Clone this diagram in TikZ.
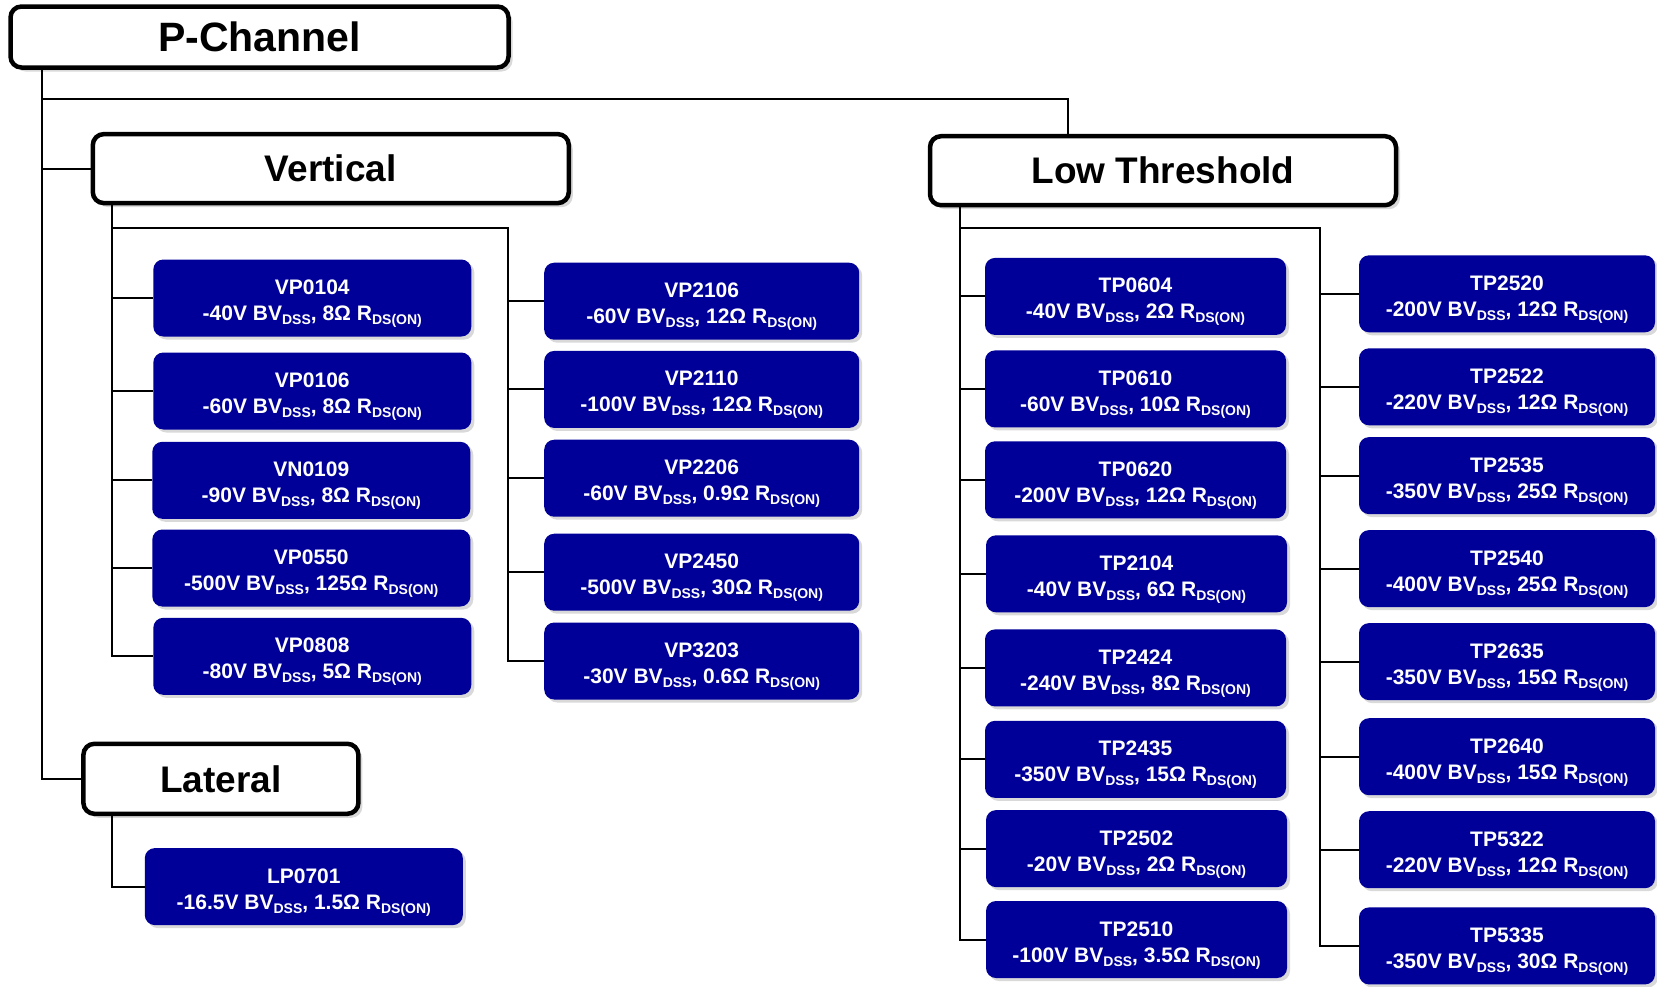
\documentclass[tikz,border=0pt]{standalone}
\usepackage{fontspec}
\setmainfont{Liberation Sans}
\usetikzlibrary{shadows}
\definecolor{boxblue}{RGB}{0,0,153}
\newcommand\sbs[1]{\raisebox{-4pt}[\height][0pt]{\fontsize{14}{14}\selectfont #1}}
\newcommand\prt[3]{\rule{0pt}{19pt}#1\\#2V BV\sbs{DSS}, #3Ω R\sbs{DS(ON)}}
\begin{document}
\begin{tikzpicture}[x=1pt,y=-1pt,
  hdr/.style={draw=black, line width=4.5pt, rounded corners=11pt, fill=white,
    font=\fontsize{37}{40}\selectfont\bfseries, inner sep=0pt,
    drop shadow={shadow xshift=4pt,shadow yshift=-4pt,opacity=0.3}},
  part/.style={fill=boxblue, rounded corners=10pt, text=white, align=center,
    font=\fontsize{21}{26}\selectfont\bfseries, inner sep=0pt, text depth=0pt,
    drop shadow={shadow xshift=3pt,shadow yshift=-3pt,opacity=0.3}},
  colA/.style={part, minimum width=318pt, minimum height=77pt},
  colB/.style={part, minimum width=315pt, minimum height=77pt},
  colC/.style={part, minimum width=301pt, minimum height=77pt},
  colD/.style={part, minimum width=296pt, minimum height=77pt},
  conn/.style={line width=2pt}]
\useasboundingbox (0,0) rectangle (1657,986);

% headers
\node[hdr, minimum width=498pt, minimum height=61pt, font=\fontsize{41}{44}\selectfont\bfseries] (pch) at (259.5,37) {P-Channel};
\node[hdr, minimum width=476pt, minimum height=69pt] (vert) at (330.8,168.6) {Vertical};
\node[hdr, minimum width=466pt, minimum height=69pt] (lt) at (1163,170.7) {Low Threshold};
\node[hdr, minimum width=275pt, minimum height=70pt] (lat) at (220.9,778.8) {Lateral};

% Vertical, left column
\node[colA] (vp0104) at (312.3,298) {\prt{VP0104}{-40}{8}};
\node[colA] (vp0106) at (312.3,391) {\prt{VP0106}{-60}{8}};
\node[colA] (vn0109) at (311.3,480.3) {\prt{VN0109}{-90}{8}};
\node[colA] (vp0550) at (311.3,568) {\prt{VP0550}{-500}{125}};
\node[colA] (vp0808) at (312.3,656.3) {\prt{VP0808}{-80}{5}};
% Vertical, right column
\node[colB] (vp2106) at (701.7,301.2) {\prt{VP2106}{-60}{12}};
\node[colB] (vp2110) at (701.7,389.4) {\prt{VP2110}{-100}{12}};
\node[colB] (vp2206) at (701.7,478.2) {\prt{VP2206}{-60}{0.9}};
\node[colB] (vp2450) at (701.7,572.2) {\prt{VP2450}{-500}{30}};
\node[colB] (vp3203) at (701.7,661) {\prt{VP3203}{-30}{0.6}};
% Low threshold, left column
\node[colC] (tp0604) at (1135.5,296.4) {\prt{TP0604}{-40}{2}};
\node[colC] (tp0610) at (1135.5,388.9) {\prt{TP0610}{-60}{10}};
\node[colC] (tp0620) at (1135.5,479.8) {\prt{TP0620}{-200}{12}};
\node[colC] (tp2104) at (1136.5,573.8) {\prt{TP2104}{-40}{6}};
\node[colC] (tp2424) at (1135.5,667.9) {\prt{TP2424}{-240}{8}};
\node[colC] (tp2435) at (1135.5,759.3) {\prt{TP2435}{-350}{15}};
\node[colC] (tp2502) at (1136.5,848.6) {\prt{TP2502}{-20}{2}};
\node[colC] (tp2510) at (1136.5,939.5) {\prt{TP2510}{-100}{3.5}};
% Low threshold, right column
\node[colD] (tp2520) at (1507,293.8) {\prt{TP2520}{-200}{12}};
\node[colD] (tp2522) at (1507,386.8) {\prt{TP2522}{-220}{12}};
\node[colD] (tp2535) at (1507,475.6) {\prt{TP2535}{-350}{25}};
\node[colD] (tp2540) at (1507,568.6) {\prt{TP2540}{-400}{25}};
\node[colD] (tp2635) at (1507,661.6) {\prt{TP2635}{-350}{15}};
\node[colD] (tp2640) at (1507,756.7) {\prt{TP2640}{-400}{15}};
\node[colD] (tp5322) at (1507,849.7) {\prt{TP5322}{-220}{12}};
\node[colD] (tp5335) at (1507,945.9) {\prt{TP5335}{-350}{30}};
% Lateral
\node[colA] (lp0701) at (303.8,886.6) {\prt{LP0701}{-16.5}{1.5}};

% connectors
\coordinate (tr) at (42.3,0);
\coordinate (j1) at (1068.4,99.3);
\draw[conn] (pch.south -| tr) |- (lat.west);
\draw[conn] (vert.west) -- (vert.west -| tr);
\draw[conn] (j1 -| tr) -- (j1) -- (j1 |- lt.north);

\coordinate (vs) at (112,0);
\coordinate (vj) at (508.3,228.3);
\draw[conn] (vert.south -| vs) |- (vp0808.west);
\draw[conn] (vj -| vs) -- (vj) |- (vp3203.west);
\foreach \n in {vp0104,vp0106,vn0109,vp0550}
  \draw[conn] (\n.west) -- (\n.west -| vs);
\foreach \n in {vp2106,vp2110,vp2206,vp2450}
  \draw[conn] (\n.west) -- (\n.west -| vj);

\coordinate (ls) at (959.6,0);
\coordinate (lj) at (1320,228.3);
\draw[conn] (lt.south -| ls) |- (tp2510.west);
\draw[conn] (lj -| ls) -- (lj) |- (tp5335.west);
\foreach \n in {tp0604,tp0610,tp0620,tp2104,tp2424,tp2435,tp2502}
  \draw[conn] (\n.west) -- (\n.west -| ls);
\foreach \n in {tp2520,tp2522,tp2535,tp2540,tp2635,tp2640,tp5322}
  \draw[conn] (\n.west) -- (\n.west -| lj);

\draw[conn] (lat.south -| vs) |- (lp0701.west);
\end{tikzpicture}
\end{document}
